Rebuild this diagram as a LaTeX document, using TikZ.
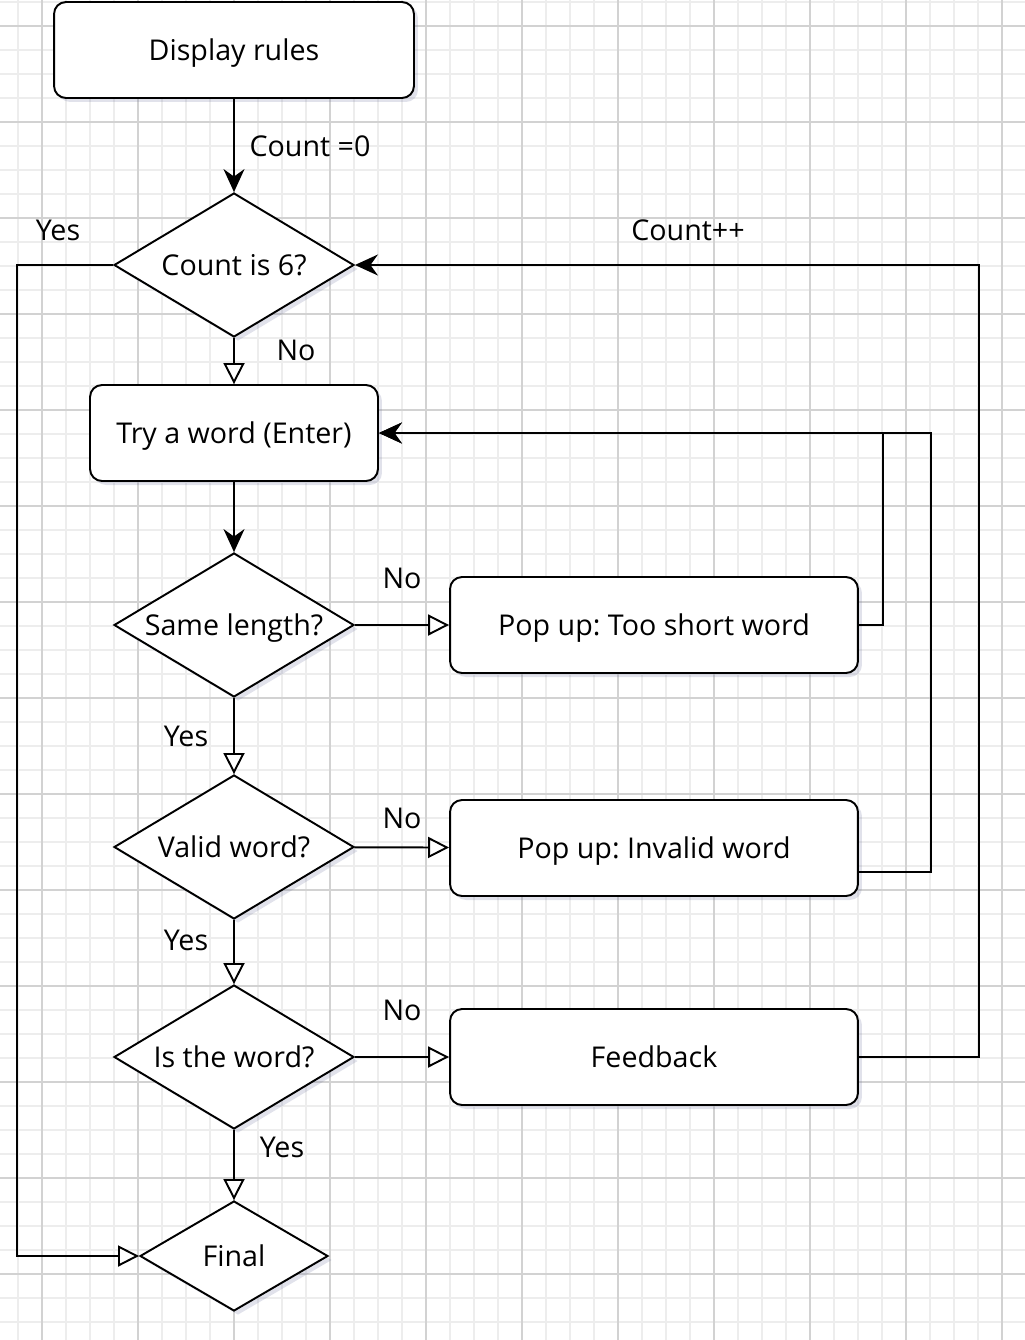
\documentclass[tikz,border=0pt]{standalone}
\usepackage{fontspec}
\setmainfont{Open Sans}
\usepackage{tikz}
\usetikzlibrary{arrows.meta,positioning,shapes.geometric,shadows}
\usepackage{xcolor}
\definecolor{gridminor}{HTML}{EDEDED}
\definecolor{gridmajor}{HTML}{D2D2D2}
\definecolor{shade}{HTML}{6A6F9A}
\frenchspacing

\begin{document}
\begin{tikzpicture}[
    x=0.02cm,y=-0.02cm,
    font=\fontsize{16.3}{19}\selectfont,
    shd/.style={drop shadow={shadow xshift=0.8mm,shadow yshift=-0.8mm,fill=shade,opacity=0.2}},
    proc/.style={rectangle,rounded corners=2.4mm,draw=black,line width=1.1pt,fill=white,shd,
                 minimum height=1.92cm,inner sep=0pt,text depth=0pt},
    dec/.style={diamond,draw=black,line width=1.1pt,fill=white,shd,inner sep=0pt,shape aspect=1.667,
                minimum width=4.8cm,minimum height=2.88cm,text depth=0pt},
    lbl/.style={inner sep=1pt},
    flow/.style={-{Stealth[length=4.6mm,width=4.2mm,inset=1.5mm]},line width=1.1pt},
    flowo/.style={-{Triangle[open,length=4.2mm,width=4.2mm,fill=white]},line width=1.1pt}
  ]
    \useasboundingbox (0,0) rectangle (1025,1340);
    % background grid
    \foreach \x in {18,42,...,1025} \draw[gridminor,line width=0.6pt] (\x,0) -- (\x,1340);
    \foreach \y in {2,26,...,1340} \draw[gridminor,line width=0.6pt] (0,\y) -- (1025,\y);
    \foreach \x in {42,138,...,1025} \draw[gridmajor,line width=0.6pt] (\x,0) -- (\x,1340);
    \foreach \y in {26,122,...,1340} \draw[gridmajor,line width=0.6pt] (0,\y) -- (1025,\y);

    % nodes
    \node[proc,minimum width=7.2cm] (rules) at (234,50) {Display rules};
    \node[dec] (count) at (234,265) {Count is 6?};
    \node[proc,minimum width=5.76cm] (try) at (234,433) {Try a word (Enter)};
    \node[dec] (same) at (234,625) {Same length?};
    \node[proc,minimum width=8.16cm] (short) at (654,625) {Pop up: Too short word};
    \node[dec] (valid) at (234,847) {Valid word?};
    \node[proc,minimum width=8.16cm] (invalid) at (654,848) {Pop up: Invalid word};
    \node[dec] (isword) at (234,1057) {Is the word?};
    \node[proc,minimum width=8.16cm] (feedback) at (654,1057) {Feedback};
    \node[dec,shape aspect=1.71,minimum width=3.76cm,minimum height=2.2cm] (final) at (234,1256) {Final};

    % labels
    \node[lbl] (l0) at (310,146) {Count =0};
    \node[lbl] (l1) at (58,230) {Yes};
    \node[lbl] (l2) at (688,230) {Count++};
    \node[lbl] (l3) at (296,350) {No};
    \node[lbl] (l4) at (402,578) {No};
    \node[lbl] (l5) at (186,736) {Yes};
    \node[lbl] (l6) at (402,818) {No};
    \node[lbl] (l7) at (186,940) {Yes};
    \node[lbl] (l8) at (402,1010) {No};
    \node[lbl] (l9) at (282,1147) {Yes};

    % connectors
    \draw[flow] (rules) -- (count);
    \draw[flowo] (count) -- (try);
    \draw[flow] (try) -- (same);
    \draw[flowo] (same) -- (short);
    \draw[flowo] (same) -- (valid);
    \draw[flowo] (valid) -- (invalid);
    \draw[flowo] (valid) -- (isword);
    \draw[flowo] (isword) -- (feedback);
    \draw[flowo] (isword) -- (final);
    \draw[flow] (short.east) -- ++(24,0) |- (try.east);
    \draw[flow] ([yshift=-0.48cm]invalid.east) -- ++(72,0) |- (try.east);
    \draw[flow] (feedback.east) -- ++(120,0) |- (count.east);
    \draw[flowo] (count.west) -- ++(-96,0) |- (final.west);
\end{tikzpicture}
\end{document}
